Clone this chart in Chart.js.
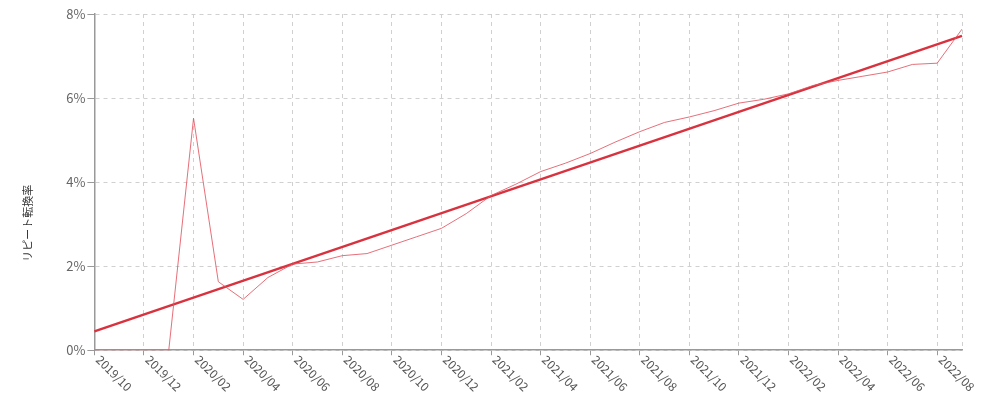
<!DOCTYPE html>
<html>
<head>
<meta charset="utf-8">
<script src="https://cdn.jsdelivr.net/npm/chart.js@4/dist/chart.umd.min.js"></script>
<style>
  html, body { margin: 0; padding: 0; background: #fff; }
  #wrap { width: 1000px; height: 403px; }
</style>
</head>
<body>
<div id="wrap"><canvas id="chart"></canvas></div>
<script>
const months = [
  '2019/10','2019/11','2019/12','2020/01','2020/02','2020/03','2020/04','2020/05','2020/06',
  '2020/07','2020/08','2020/09','2020/10','2020/11','2020/12','2021/01','2021/02','2021/03',
  '2021/04','2021/05','2021/06','2021/07','2021/08','2021/09','2021/10','2021/11','2021/12',
  '2022/01','2022/02','2022/03','2022/04','2022/05','2022/06','2022/07','2022/08','2022/09'
];
// リピート転換率 (%)
const repeatRate = [
  0, 0, 0, 0, 5.52, 1.63, 1.21, 1.73, 2.05,
  2.1, 2.25, 2.3, 2.5, 2.7, 2.9, 3.25, 3.68, 3.95,
  4.25, 4.45, 4.68, 4.95, 5.2, 5.42, 5.55, 5.7, 5.88,
  5.97, 6.1, 6.3, 6.42, 6.52, 6.62, 6.8, 6.83, 7.64
];
// trend line: only the two ends, joined straight
const trendStart = 0.45;
const trendEnd = 7.48;
const trend = months.map((m, i) => i === 0 ? trendStart : (i === months.length - 1 ? trendEnd : null));
const yTicks = [0, 2, 4, 6, 8];
const yTitle = 'リピート転換率';

const tickFont = '"Noto Sans CJK JP", "Noto Sans", sans-serif';
const isShown = i => i % 2 === 0;

// x labels run down to the right from the tick and the y title sits low, so draw them here
const customText = {
  id: 'customText',
  afterDraw(chart) {
    const ctx = chart.ctx;
    const xs = chart.scales.x;
    const area = chart.chartArea;
    ctx.save();
    ctx.font = '12px ' + tickFont;
    ctx.fillStyle = '#555';
    ctx.textAlign = 'left';
    ctx.textBaseline = 'top';
    months.forEach((m, i) => {
      if (!isShown(i)) return;
      const x = xs.getPixelForValue(i);
      ctx.save();
      ctx.translate(x + 8, xs.top + 3);
      ctx.rotate(Math.PI / 4);
      ctx.fillText(m, 0, 0);
      ctx.restore();
    });
    ctx.font = '11px ' + tickFont;
    ctx.fillStyle = '#333';
    ctx.textAlign = 'center';
    ctx.textBaseline = 'middle';
    ctx.translate(28, area.bottom - 127);
    ctx.rotate(-Math.PI / 2);
    ctx.fillText(yTitle, 0, 0);
    ctx.restore();
  }
};

new Chart(document.getElementById('chart'), {
  type: 'line',
  data: {
    labels: months,
    datasets: [
      {
        label: yTitle,
        data: repeatRate,
        borderColor: 'rgba(226,86,98,0.85)',
        borderWidth: 1,
        pointRadius: 0,
        tension: 0,
        fill: false
      },
      {
        label: 'trend',
        data: trend,
        spanGaps: true,
        borderColor: '#d9323f',
        borderWidth: 2.5,
        pointRadius: 0,
        fill: false
      }
    ]
  },
  options: {
    responsive: true,
    maintainAspectRatio: false,
    animation: false,
    layout: { padding: { top: 14, right: 38, left: 21, bottom: 0 } },
    plugins: { legend: { display: false }, tooltip: { enabled: false } },
    scales: {
      x: {
        ticks: {
          autoSkip: false,
          minRotation: 45,
          maxRotation: 45,
          color: 'transparent',
          font: { size: 12, family: tickFont },
          callback: (v, i) => isShown(i) ? months[i] : ''
        },
        grid: {
          color: ctx => (isShown(ctx.index) || ctx.index === months.length - 1) ? '#d0d0d0' : 'transparent',
          tickColor: ctx => isShown(ctx.index) ? '#999' : 'transparent',
          tickLength: 5
        },
        border: { display: true, color: '#999', width: 1.5, dash: [4, 4] }
      },
      y: {
        min: 0,
        max: 8,
        afterBuildTicks: s => { s.ticks = yTicks.map(v => ({ value: v })); },
        ticks: {
          color: '#666',
          font: { size: 13, family: tickFont },
          padding: 2,
          callback: v => v + '%'
        },
        grid: {
          color: '#d0d0d0',
          tickColor: '#999',
          tickLength: 7
        },
        border: { display: true, color: '#999', width: 1.5, dash: [4, 4] },
        title: {
          display: true,
          text: yTitle,
          color: 'transparent',
          font: { size: 11, family: tickFont },
          padding: { top: 0, bottom: 30 }
        }
      }
    }
  },
  plugins: [customText]
});
</script>
</body>
</html>
